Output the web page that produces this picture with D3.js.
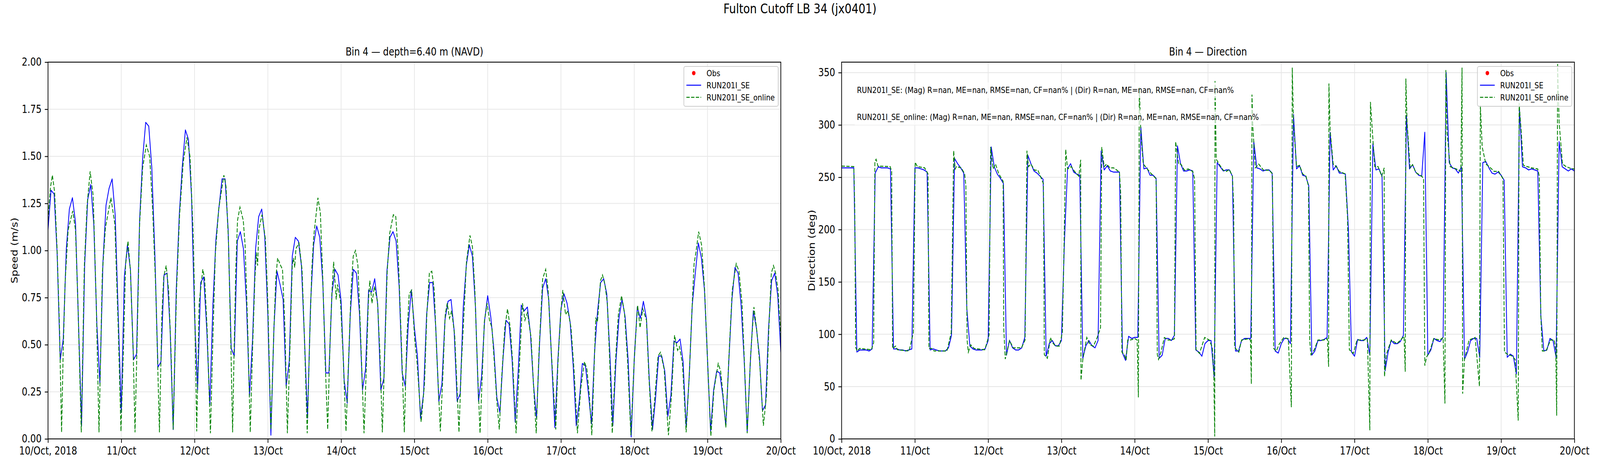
<!DOCTYPE html>
<html>
<head>
<meta charset="utf-8">
<script src="https://cdn.jsdelivr.net/npm/d3@7"></script>
<style>
  html, body { margin: 0; padding: 0; background: #fff; overflow: hidden; }
  svg { display: block; width: 100vw; height: 100vh; font-family: "DejaVu Sans", sans-serif; }
</style>
</head>
<body>
<!-- laid out in 5000x1200 units, stretched to whatever the window is -->
<svg id="chart" viewBox="0 0 5000 1200" preserveAspectRatio="none"></svg>
<script>
// time range (UTC), values are hourly offsets from the start
const startDate = Date.UTC(2018, 9, 10);
const endDate = Date.UTC(2018, 9, 20);

const speedTicks = [0, 0.25, 0.5, 0.75, 1.0, 1.25, 1.5, 1.75, 2.0];
const dirTicks = [0, 50, 100, 150, 200, 250, 300, 350];
const seriesNames = ["Obs", "RUN201I_SE", "RUN201I_SE_online"];
const statLines = [
  "RUN201I_SE: (Mag) R=nan, ME=nan, RMSE=nan, CF=nan% | (Dir) R=nan, ME=nan, RMSE=nan, CF=nan%",
  "RUN201I_SE_online: (Mag) R=nan, ME=nan, RMSE=nan, CF=nan% | (Dir) R=nan, ME=nan, RMSE=nan, CF=nan%"
];

// RUN201I_SE speed, one value per hour (h0..h240)
const speedSE = [
  1.11, 1.32, 1.30, 0.98, 0.42, 0.53, 1.01, 1.22, 1.28, 1.15, 0.61, 0.07,
  0.92, 1.27, 1.35, 1.14, 0.61, 0.29, 0.94, 1.24, 1.33, 1.38, 1.19, 0.66,
  0.14, 0.86, 1.03, 0.90, 0.42, 0.45, 1.16, 1.49, 1.68, 1.66, 1.44, 0.98,
  0.38, 0.41, 0.87, 0.88, 0.58, 0.05, 0.79, 1.19, 1.45, 1.64, 1.59, 1.29,
  0.66, 0.26, 0.83, 0.86, 0.58, 0.18, 0.71, 1.06, 1.23, 1.38, 1.38, 1.11,
  0.48, 0.44, 1.05, 1.10, 1.01, 0.72, 0.23, 0.53, 1.01, 1.18, 1.22, 1.07,
  0.66, 0.02, 0.59, 0.89, 0.82, 0.74, 0.28, 0.41, 0.97, 1.07, 1.05, 0.92,
  0.53, 0.11, 0.72, 1.03, 1.13, 1.07, 0.83, 0.35, 0.35, 0.77, 0.90, 0.87,
  0.73, 0.31, 0.19, 0.66, 0.90, 0.88, 0.67, 0.26, 0.37, 0.79, 0.78, 0.85,
  0.71, 0.26, 0.32, 0.89, 1.07, 1.10, 1.05, 0.81, 0.35, 0.28, 0.61, 0.79,
  0.59, 0.44, 0.11, 0.24, 0.66, 0.83, 0.83, 0.59, 0.20, 0.29, 0.63, 0.73,
  0.74, 0.58, 0.20, 0.24, 0.70, 0.92, 1.03, 0.97, 0.70, 0.20, 0.33, 0.63,
  0.76, 0.65, 0.48, 0.22, 0.14, 0.42, 0.63, 0.61, 0.42, 0.09, 0.36, 0.71,
  0.68, 0.70, 0.56, 0.29, 0.11, 0.51, 0.80, 0.85, 0.74, 0.40, 0.06, 0.42,
  0.69, 0.77, 0.72, 0.62, 0.39, 0.07, 0.20, 0.40, 0.39, 0.24, 0.08, 0.46,
  0.68, 0.83, 0.85, 0.77, 0.46, 0.07, 0.41, 0.64, 0.74, 0.65, 0.42, 0.01,
  0.42, 0.70, 0.64, 0.73, 0.64, 0.29, 0.05, 0.22, 0.44, 0.44, 0.36, 0.12,
  0.23, 0.52, 0.51, 0.53, 0.41, 0.06, 0.33, 0.71, 0.88, 1.04, 0.96, 0.79,
  0.42, 0.04, 0.26, 0.36, 0.35, 0.23, 0.07, 0.42, 0.74, 0.91, 0.88, 0.71,
  0.42, 0.035, 0.40, 0.68, 0.59, 0.44, 0.15, 0.18, 0.59, 0.84, 0.88, 0.76,
  0.46
];

// RUN201I_SE_online speed, [hour, value]
const speedOnline = [
  [0,1.16],[0.76,1.33],[1.44,1.40],[2.17,1.31],[2.97,1.01],[3.77,0.59],[4.45,0.035],[4.97,0.46],
  [5.6,0.83],[6.6,1.11],[8.1,1.21],[9.0,1.11],[9.8,0.72],[10.9,0.035],[11.9,0.92],[12.8,1.24],
  [13.8,1.42],[14.8,1.29],[15.8,0.72],[16.7,0.035],[17.8,0.88],[18.8,1.12],[20.6,1.28],[21.9,1.14],
  [23.0,0.59],[23.9,0.04],[24.8,0.53],[25.4,0.92],[26.2,1.05],[27.0,0.89],[27.9,0.46],[28.5,0.035],
  [29.2,0.53],[30.0,1.14],[31.0,1.44],[32.2,1.56],[33.3,1.50],[34.3,1.21],[35.3,0.79],[36.5,0.035],
  [37.3,0.66],[37.9,0.86],[38.7,0.92],[39.5,0.79],[40.3,0.46],[41.0,0.05],[42.1,0.79],[43.1,1.19],
  [44.3,1.47],[45.5,1.60],[46.5,1.50],[47.5,1.11],[48.1,0.66],[48.7,0.04],[49.5,0.72],[50.7,0.90],
  [51.3,0.85],[52.1,0.59],[53.2,0.03],[54.1,0.59],[54.8,0.98],[55.9,1.22],[57.6,1.40],[58.3,1.34],
  [59.1,1.05],[59.9,0.49],[60.46,0.035],[60.94,0.46],[61.5,0.90],[62.07,1.16],[62.87,1.23],[63.95,1.16],
  [64.55,1.03],[65.4,0.59],[66.24,0.035],[66.96,0.46],[67.76,0.85],[68.25,0.99],[68.65,0.92],[69.05,1.11],
  [70.1,1.19],[71.2,1.06],[72.0,0.72],[73.0,0.05],[74.0,0.59],[74.6,0.85],[75.2,0.96],[76.2,0.92],
  [76.8,0.90],[77.6,0.59],[78.4,0.03],[79.2,0.46],[80.0,0.92],[80.4,0.96],[80.8,0.91],[81.2,1.01],
  [82.2,1.04],[83.2,0.90],[84.0,0.53],[84.9,0.03],[85.7,0.53],[86.4,0.90],[87.0,1.07],[87.8,1.19],
  [88.4,1.28],[89.2,1.20],[90.0,0.85],[90.8,0.40],[91.6,0.05],[92.4,0.53],[93.0,0.78],[93.55,0.94],
  [94.4,0.74],[94.8,0.82],[95.8,0.73],[96.6,0.46],[97.6,0.04],[98.4,0.40],[99.25,0.79],[99.97,0.97],
  [100.7,1.00],[101.5,0.92],[102.3,0.59],[103.5,0.03],[104.3,0.40],[104.9,0.72],[105.4,0.84],[106.1,0.72],
  [106.9,0.81],[107.9,0.73],[108.7,0.46],[109.5,0.035],[110.3,0.46],[111.1,0.89],[111.9,1.09],[113.1,1.19],
  [113.9,1.18],[114.7,0.98],[115.7,0.53],[116.7,0.035],[117.5,0.53],[118.3,0.77],[119.1,0.79],[120.1,0.53],
  [120.9,0.40],[122.2,0.09],[123.3,0.29],[124.1,0.67],[124.9,0.88],[125.7,0.89],[126.5,0.79],[127.3,0.46],
  [128.5,0.04],[129.3,0.33],[130.1,0.66],[130.75,0.72],[131.5,0.64],[132.2,0.68],[133.2,0.55],[133.8,0.33],
  [134.6,0.035],[135.4,0.40],[136.4,0.72],[137.05,0.94],[138.2,1.08],[139.0,1.02],[139.8,0.79],[140.6,0.40],
  [141.5,0.03],[142.2,0.33],[142.9,0.62],[143.8,0.72],[144.6,0.63],[145.4,0.59],[146.2,0.40],[147.0,0.20],
  [147.8,0.05],[148.6,0.33],[149.6,0.59],[150.5,0.69],[151.4,0.59],[152.2,0.40],[153.3,0.03],[154.2,0.33],
  [155.4,0.72],[156.2,0.63],[157.0,0.67],[158.2,0.54],[159.0,0.29],[159.9,0.03],[160.8,0.46],[162.0,0.85],
  [163.0,0.90],[163.8,0.79],[164.6,0.53],[166.3,0.05],[167.0,0.40],[167.9,0.66],[168.6,0.79],[169.5,0.66],
  [170.3,0.68],[171.3,0.59],[172.3,0.36],[173.4,0.03],[174.5,0.27],[175.7,0.41],[176.5,0.37],[177.3,0.23],
  [178.1,0.02],[178.9,0.40],[179.4,0.64],[179.95,0.62],[180.95,0.84],[181.6,0.87],[182.4,0.82],[183.2,0.72],
  [184.0,0.40],[184.8,0.03],[185.8,0.40],[186.8,0.66],[187.85,0.76],[188.8,0.67],[189.8,0.42],[190.9,0.02],
  [192.0,0.42],[193.1,0.71],[193.9,0.59],[194.8,0.69],[196.0,0.63],[196.8,0.33],[197.8,0.04],[198.8,0.23],
  [199.8,0.44],[200.6,0.46],[201.8,0.37],[203.2,0.02],[204.2,0.23],[205.2,0.55],[206.2,0.47],[206.8,0.49],
  [207.8,0.40],[209.0,0.035],[210.0,0.33],[211.0,0.72],[211.6,0.93],[212.2,0.99],[213.1,1.10],[214.05,1.03],
  [215.05,0.79],[216.05,0.40],[217.1,0.015],[218.1,0.26],[219.5,0.40],[220.3,0.36],[221.1,0.23],[222.0,0.06],
  [222.9,0.40],[224.1,0.79],[225.4,0.93],[226.3,0.89],[227.3,0.72],[228.1,0.40],[229.0,0.03],[230.1,0.44],
  [231.2,0.70],[232.1,0.58],[233.1,0.40],[234.3,0.07],[235.3,0.23],[236.1,0.59],[236.9,0.88],[237.6,0.92],
  [238.3,0.88],[239.1,0.79],[240.0,0.53]
];

// RUN201I_SE direction (deg), one value per hour (h0..h240)
const dirSE = [
  259, 259, 259, 259, 259,  83,  85,  85,  85,  84,  86, 254,
  260, 259, 259, 259, 258,  86,  86,  85,  85,  84,  85,  86,
  259, 259, 258, 257, 255,  85,  86,  85,  84,  84,  84,  87,
   99, 268, 263, 259, 254, 125,  89,  86,  85,  85,  85,  86,
   94, 279, 260, 253, 249, 244,  80,  94,  87,  85,  85,  87,
   97, 271, 263, 256, 254, 251, 248,  79,  91,  94,  89,  89,
   94, 190, 258, 263, 255, 253, 252,  77,  89,  94,  89,  87,
   94, 275, 257, 261, 256, 255, 255, 255,  82,  75,  98,  96,
   97,  97, 298, 258, 259, 252, 252, 249,  77,  80,  96,  96,
   94,  99, 280, 263, 256, 256, 257, 256,  85,  83,  79,  91,
   94,  94,  59, 264, 260, 256, 257, 257, 251,  84,  84,  94,
   96,  96,  96, 284, 259, 258, 256, 257, 257, 254,  84,  82,
   91,  96,  96,  91, 310, 258, 261, 252, 251, 242,  80,  84,
   94,  94,  95,  97, 293, 257, 261, 254, 254, 253, 200,  83,
   79,  95,  94,  94,  97,  80, 282, 257, 258, 251,  65,  83,
   94,  91,  91,  93,  99, 309, 258, 262, 255, 252, 251, 293,
   80,  85,  96,  94,  93,  97, 350, 264, 259, 258, 254, 260,
   76,  83,  94,  96,  96,  78, 264, 265, 259, 254, 253, 255,
  252, 247,  78,  81,  79,  62, 316, 260, 259, 257, 258, 257,
  256, 118,  84,  85,  96,  94,  78, 284, 260, 258, 256, 258,
  256
];

// RUN201I_SE_online direction (deg), [hour, value]
const dirOnline = [
  [0,260.7],[4.0,260.2],[4.3,223],[4.6,87.5],[5.1,84],[5.9,86.4],[9.75,85.2],[10.5,92],
  [10.9,265],[11.3,267.2],[11.9,260.7],[15.9,260.2],[16.4,255.6],[16.7,86.4],[17.7,88.7],[18.3,85.2],
  [22.1,84],[23.5,101.5],[24.1,264.4],[24.8,260.2],[27.2,259],[28.3,253.2],[28.6,86.4],[29.5,86.4],
  [30.3,84],[34.5,84],[35.9,101.5],[36.7,275.4],[37.2,257.9],[37.6,260.2],[39.2,259],[40.3,253.2],
  [40.7,241.6],[41.1,94.5],[41.5,82.9],[42.3,89.9],[43.4,86.4],[46.9,85.2],[48.3,99.2],[48.8,278.9],
  [49.6,257.9],[50.4,262.6],[51.5,253.2],[52.9,246.2],[53.1,106.2],[53.6,76.3],[54.3,85.2],[55.0,94],
  [56.2,87],[58.9,87],[60.1,94.5],[60.7,275.4],[61.2,260.2],[62.0,262.6],[63.2,256.7],[64.3,256.7],
  [66.1,243.9],[66.4,80.5],[67.4,77],[68.4,96.9],[69.0,92.2],[70.1,88.7],[71.3,88.7],[72.3,101.5],
  [72.8,176.2],[73.4,276.6],[74.0,257.9],[75.2,260.2],[76.3,255.6],[77.7,251],[78.3,266.7],[78.4,56],
  [79.0,75.9],[80.3,96.9],[81.3,89.9],[82.5,88.7],[83.7,96.9],[84.8,106.2],[85.2,278.9],[86.0,260.2],
  [86.8,262.6],[87.9,259],[89.1,259],[91.0,255],[91.4,234.6],[91.8,82.9],[92.6,80.5],[93.2,75.4],
  [93.7,94.5],[94.5,94.5],[96.1,95.7],[96.8,94.5],[97.2,39.7],[97.5,336],[98.0,292.9],[98.8,262.6],
  [99.5,260.2],[101.1,254.4],[103.0,248.6],[103.4,80.5],[103.8,75.9],[104.6,82.9],[105.7,96.9],[106.9,94.5],
  [108.0,94.5],[109.0,95.7],[109.4,284],[110.4,262.6],[111.1,262.6],[112.3,256.7],[113.5,257.9],[115.0,255.6],
  [115.6,248.6],[116.1,85.2],[117.2,81.7],[118.9,96.9],[120.4,94.5],[121.4,87.5],[121.9,61.9],[122.2,2.3],
  [122.3,342],[122.7,267.2],[123.9,261.4],[125.0,256.7],[126.0,255.6],[127.0,257.4],[128.0,251],[128.4,223],
  [128.7,87.5],[130.1,82.9],[131.0,94.5],[133.2,95.7],[133.9,94.5],[134.2,52.5],[134.4,329],[134.7,297.6],
  [135.5,259],[136.6,262.6],[138.2,256.7],[140.1,256.7],[141.1,253.2],[141.5,86.4],[142.4,84],[143.2,89.9],
  [144.8,96.9],[146.3,95.7],[147.3,30.3],[147.6,354.8],[148.0,302.3],[149.0,260.2],[150.0,261.4],[151.0,253.2],
  [152.1,251],[152.9,241.6],[153.3,94.5],[153.7,80.5],[154.8,85.2],[156.0,94.5],[157.9,94.5],[159.1,95.7],
  [159.5,68.9],[159.6,339.6],[160.0,295.3],[161.0,262.6],[162.0,260.2],[163.0,255.6],[164.9,253.2],[165.7,211.2],
  [166.3,85.2],[167.6,81.7],[168.8,94.5],[171.1,94.5],[172.2,95.7],[173.0,8.2],[173.2,322],[173.8,295.3],
  [174.6,260.2],[175.7,260.2],[176.9,251],[177.7,259],[177.8,59.5],[178.4,80.5],[180.0,94.5],[181.9,91],
  [184.2,98],[184.6,64.2],[184.8,344.3],[185.2,302.3],[186.2,259],[187.0,262.1],[188.1,254.4],[190.0,251],
  [190.6,248.6],[191.0,70],[191.6,78.2],[192.8,85.2],[193.9,95.7],[195.9,94.5],[197.0,96.9],[197.6,33.8],
  [197.9,352.4],[198.3,292.9],[199.3,260.2],[201.3,257.9],[202.8,255.6],[203.2,354.8],[203.4,43.2],[204.0,75.9],
  [205.5,94.5],[207.5,96.9],[208.9,50.2],[209.2,318.6],[209.8,279],[211.0,262.6],[212.1,260.2],[213.7,255.6],
  [215.2,255.6],[216.6,248.6],[217.1,82.9],[218.3,80.5],[219.5,79.4],[220.6,75.9],[221.6,17.5],[221.9,321],
  [222.6,292.9],[223.3,261.4],[224.5,260.2],[226.0,259],[228.0,257.9],[228.5,251],[229.0,117.9],[229.5,84],
  [230.7,84],[232.2,94.5],[233.4,94.5],[233.9,85.2],[234.2,22.2],[234.5,358.3],[235.0,302.3],[236.1,262.6],
  [237.3,260.2],[238.8,258.4],[240.0,257.9]
];

const svg = d3.select("#chart");
const hourMs = 3600 * 1000;
const toDate = h => new Date(startDate + h * hourMs);

const plotTop = 159, plotBottom = 1123;
const tickFont = 27.8;
const lineW = 2.5;
const dash = "10.3,4.4";
const gridColor = "#e7e7e7";
const fmtFirst = d3.utcFormat("%d/%b, %Y");
const fmtDay = d3.utcFormat("%d/%b");

// suptitle
svg.append("text")
  .attr("x", 2500).attr("y", 34)
  .attr("text-anchor", "middle")
  .style("font-size", "34px")
  .text("Fulton Cutoff LB 34 (jx0401)");

function drawPanel(opt) {
  const x = d3.scaleUtc().domain([new Date(startDate), new Date(endDate)]).range([opt.left, opt.right]);
  const y = d3.scaleLinear().domain(opt.yDomain).range([plotBottom, plotTop]);
  const days = d3.utcDay.range(new Date(startDate), new Date(endDate + 1));
  const g = svg.append("g");

  g.append("clipPath").attr("id", opt.id + "-clip")
    .append("rect")
    .attr("x", opt.left).attr("y", plotTop)
    .attr("width", opt.right - opt.left).attr("height", plotBottom - plotTop);

  // grid
  g.append("g").selectAll("line").data(days).join("line")
    .attr("x1", d => x(d)).attr("x2", d => x(d))
    .attr("y1", plotTop).attr("y2", plotBottom)
    .attr("stroke", gridColor).attr("stroke-width", 2.2);
  g.append("g").selectAll("line").data(opt.yTicks).join("line")
    .attr("x1", opt.left).attr("x2", opt.right)
    .attr("y1", d => y(d)).attr("y2", d => y(d))
    .attr("stroke", gridColor).attr("stroke-width", 2.2);

  // series
  const plot = g.append("g").attr("clip-path", `url(#${opt.id}-clip)`);
  const line = d3.line().x(d => x(toDate(d[0]))).y(d => y(d[1]));
  plot.append("path")
    .datum(opt.se.map((v, i) => [i, v]))
    .attr("d", line)
    .attr("fill", "none").attr("stroke", "#0000ff")
    .attr("stroke-width", lineW).attr("stroke-linejoin", "round");
  plot.append("path")
    .datum(opt.online)
    .attr("d", line)
    .attr("fill", "none").attr("stroke", "#008000")
    .attr("stroke-width", lineW).attr("stroke-dasharray", dash);

  // axes
  const xAxis = g.append("g")
    .attr("transform", `translate(0,${plotBottom})`)
    .call(d3.axisBottom(x).tickValues(days)
      .tickFormat((d, i) => i === 0 ? fmtFirst(d) : fmtDay(d))
      .tickSize(10).tickPadding(10));
  const yAxis = g.append("g")
    .attr("transform", `translate(${opt.left},0)`)
    .call(d3.axisLeft(y).tickValues(opt.yTicks).tickFormat(opt.yFormat)
      .tickSize(10).tickPadding(10));
  [xAxis, yAxis].forEach(a => {
    a.select(".domain").remove();
    a.attr("font-family", null).attr("font-size", null);
    a.selectAll("line").attr("stroke", "#000").attr("stroke-width", 2.2);
    a.selectAll("text").attr("fill", "#000").style("font-size", tickFont + "px");
  });

  // spines
  g.append("rect")
    .attr("x", opt.left).attr("y", plotTop)
    .attr("width", opt.right - opt.left).attr("height", plotBottom - plotTop)
    .attr("fill", "none").attr("stroke", "#000").attr("stroke-width", 2.2);

  // titles
  g.append("text")
    .attr("x", (opt.left + opt.right) / 2).attr("y", 142)
    .attr("text-anchor", "middle")
    .style("font-size", "28px")
    .text(opt.title);
  g.append("text")
    .attr("transform", `translate(${opt.yLabelX},${(plotTop + plotBottom) / 2}) rotate(-90)`)
    .attr("text-anchor", "middle")
    .style("font-size", tickFont + "px")
    .text(opt.yLabel);

  // stats text with translucent white box
  if (opt.stats) {
    opt.stats.forEach((s, i) => {
      const by = 238 + i * 69;
      const box = g.append("rect").attr("fill", "#fff").attr("fill-opacity", 0.7);
      const t = g.append("text")
        .attr("x", opt.left + 48).attr("y", by)
        .style("font-size", "22px")
        .text(s);
      const w = t.node().getComputedTextLength();
      box.attr("x", opt.left + 41).attr("y", by - 27)
        .attr("width", w + 14).attr("height", 40);
    });
  }

  // legend
  const lx = opt.right - 8 - 295, ly = plotTop + 11;
  const lg = g.append("g");
  lg.append("rect")
    .attr("x", lx).attr("y", ly).attr("width", 295).attr("height", 102)
    .attr("rx", 5).attr("fill", "#fff").attr("fill-opacity", 0.8)
    .attr("stroke", "#cccccc").attr("stroke-width", 2.2);
  seriesNames.forEach((name, i) => {
    const ry = ly + 17 + i * 31;
    if (i === 0) {
      lg.append("circle").attr("cx", lx + 31).attr("cy", ry).attr("r", 5.5).attr("fill", "#ff0000");
    } else {
      lg.append("line")
        .attr("x1", lx + 8).attr("x2", lx + 54).attr("y1", ry).attr("y2", ry)
        .attr("stroke", i === 1 ? "#0000ff" : "#008000")
        .attr("stroke-width", lineW)
        .attr("stroke-dasharray", i === 2 ? dash : null);
    }
    lg.append("text")
      .attr("x", lx + 71).attr("y", ry + 8)
      .style("font-size", "22px")
      .text(name);
  });
}

drawPanel({
  id: "speed", left: 150, right: 2440,
  yDomain: [0, 2], yTicks: speedTicks, yFormat: d3.format(".2f"),
  se: speedSE, online: speedOnline,
  title: "Bin 4 \u2014 depth=6.40 m (NAVD)", yLabel: "Speed (m/s)", yLabelX: 55
});

drawPanel({
  id: "dir", left: 2630, right: 4920,
  yDomain: [0, 360], yTicks: dirTicks, yFormat: d3.format("d"),
  se: dirSE, online: dirOnline, stats: statLines,
  title: "Bin 4 \u2014 Direction", yLabel: "Direction (deg)", yLabelX: 2546
});
</script>
</body>
</html>
